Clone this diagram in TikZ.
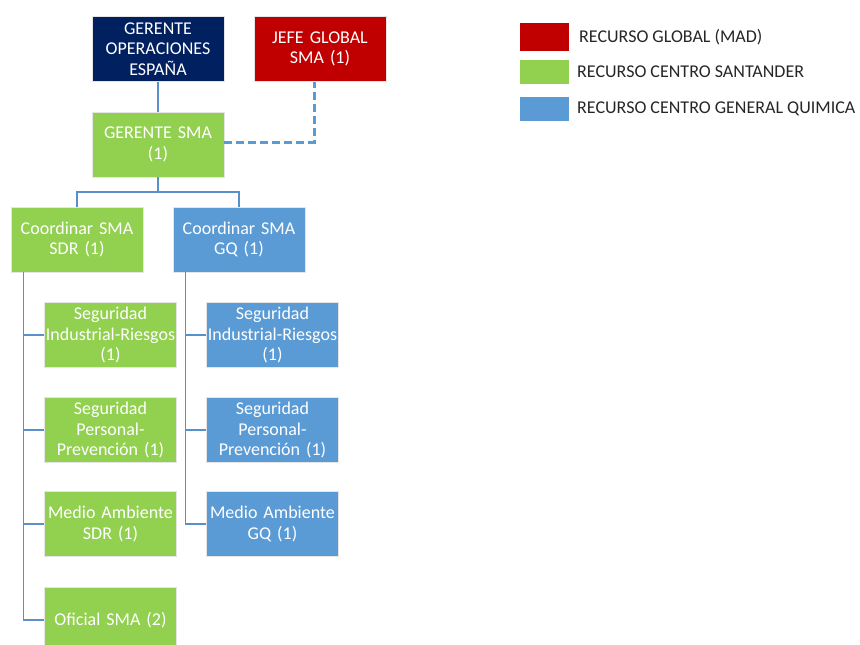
\documentclass[tikz,border=0pt]{standalone}
\usepackage{fontspec}
\setmainfont{Carlito}
\usetikzlibrary{calc}
\definecolor{azulosc}{HTML}{002060}
\definecolor{rojo}{HTML}{C00000}
\definecolor{verde}{HTML}{92D050}
\definecolor{azul}{HTML}{5B9BD5}
\definecolor{linea}{HTML}{5A8FCB}
\definecolor{texto}{HTML}{262626}
\begin{document}
\begin{tikzpicture}[x=1pt,y=-1pt,
  caja/.style={minimum width=132pt,minimum height=65pt,text width=132pt,align=center,
    inner sep=0pt,text=white,draw=white!80!gray,line width=0.5pt,
    font=\fontsize{18}{20.5}\selectfont},
  conector/.style={linea,line width=1.1pt},
  muestra/.style={minimum width=49pt,inner sep=0pt},
  leyenda/.style={anchor=west,text=texto,inner sep=0pt,font=\fontsize{18}{20}\selectfont}]
\useasboundingbox (0,0) rectangle (860,645);
% Nivel superior
\node[caja,fill=azulosc] (gop) at (158,49) {GERENTE\\OPERACIONES\\ESPAÑA};
\node[caja,fill=rojo] (jefe) at (320,49) {JEFE GLOBAL\\SMA (1)};
\node[caja,fill=verde] (gsma) at (158,144.5) {GERENTE SMA\\(1)};
% Coordinadores
\node[caja,fill=verde] (csdr) at (77,239.5) {Coordinar SMA\\SDR (1)};
\node[caja,fill=azul] (cgq) at (239,239.5) {Coordinar SMA\\GQ (1)};
% Rama SDR
\node[caja,fill=verde] (segindsdr) at (110.5,335) {Seguridad\\Industrial-Riesgos\\(1)};
\node[caja,fill=verde] (segpersdr) at (110.5,430) {Seguridad\\Personal-\\Prevención (1)};
\node[caja,fill=verde] (medsdr) at (110.5,524) {Medio Ambiente\\SDR (1)};
\node[caja,fill=verde] (ofsdr) at (110.5,620) {Oficial SMA (2)};
% Rama GQ
\node[caja,fill=azul] (segindgq) at (272.5,335) {Seguridad\\Industrial-Riesgos\\(1)};
\node[caja,fill=azul] (segpergq) at (272.5,430) {Seguridad\\Personal-\\Prevención (1)};
\node[caja,fill=azul] (medgq) at (272.5,524) {Medio Ambiente\\GQ (1)};
% Conectores
\coordinate (bus) at (158,192);
\draw[conector] (gop) -- (gsma);
\draw[conector] (gsma) -- (bus);
\draw[conector] (csdr.north) |- (bus) -| (cgq.north);
\draw[azul,line width=3pt,dash pattern=on 8pt off 4pt] ([yshift=2.5pt]gsma.east) -| ([xshift=-6pt]jefe.south);
\foreach \hijo in {segindsdr,segpersdr,medsdr,ofsdr}
  \draw[conector] ([xshift=13pt]csdr.south west) |- (\hijo.west);
\foreach \hijo in {segindgq,segpergq,medgq}
  \draw[conector] ([xshift=13pt]cgq.south west) |- (\hijo.west);
% Leyenda
\node[muestra,fill=rojo,minimum height=28pt] (mrojo) at (544.5,37) {};
\node[muestra,fill=verde,minimum height=24pt] (mverde) at (544.5,72) {};
\node[muestra,fill=azul,minimum height=24pt] (mazul) at (544.5,109) {};
\node[leyenda] (lrojo) at (579,37) {RECURSO GLOBAL (MAD)};
\node[leyenda] (lverde) at (577,72) {RECURSO CENTRO SANTANDER};
\node[leyenda] (lazul) at (577,109) {RECURSO CENTRO GENERAL QUIMICA};
\end{tikzpicture}
\end{document}
